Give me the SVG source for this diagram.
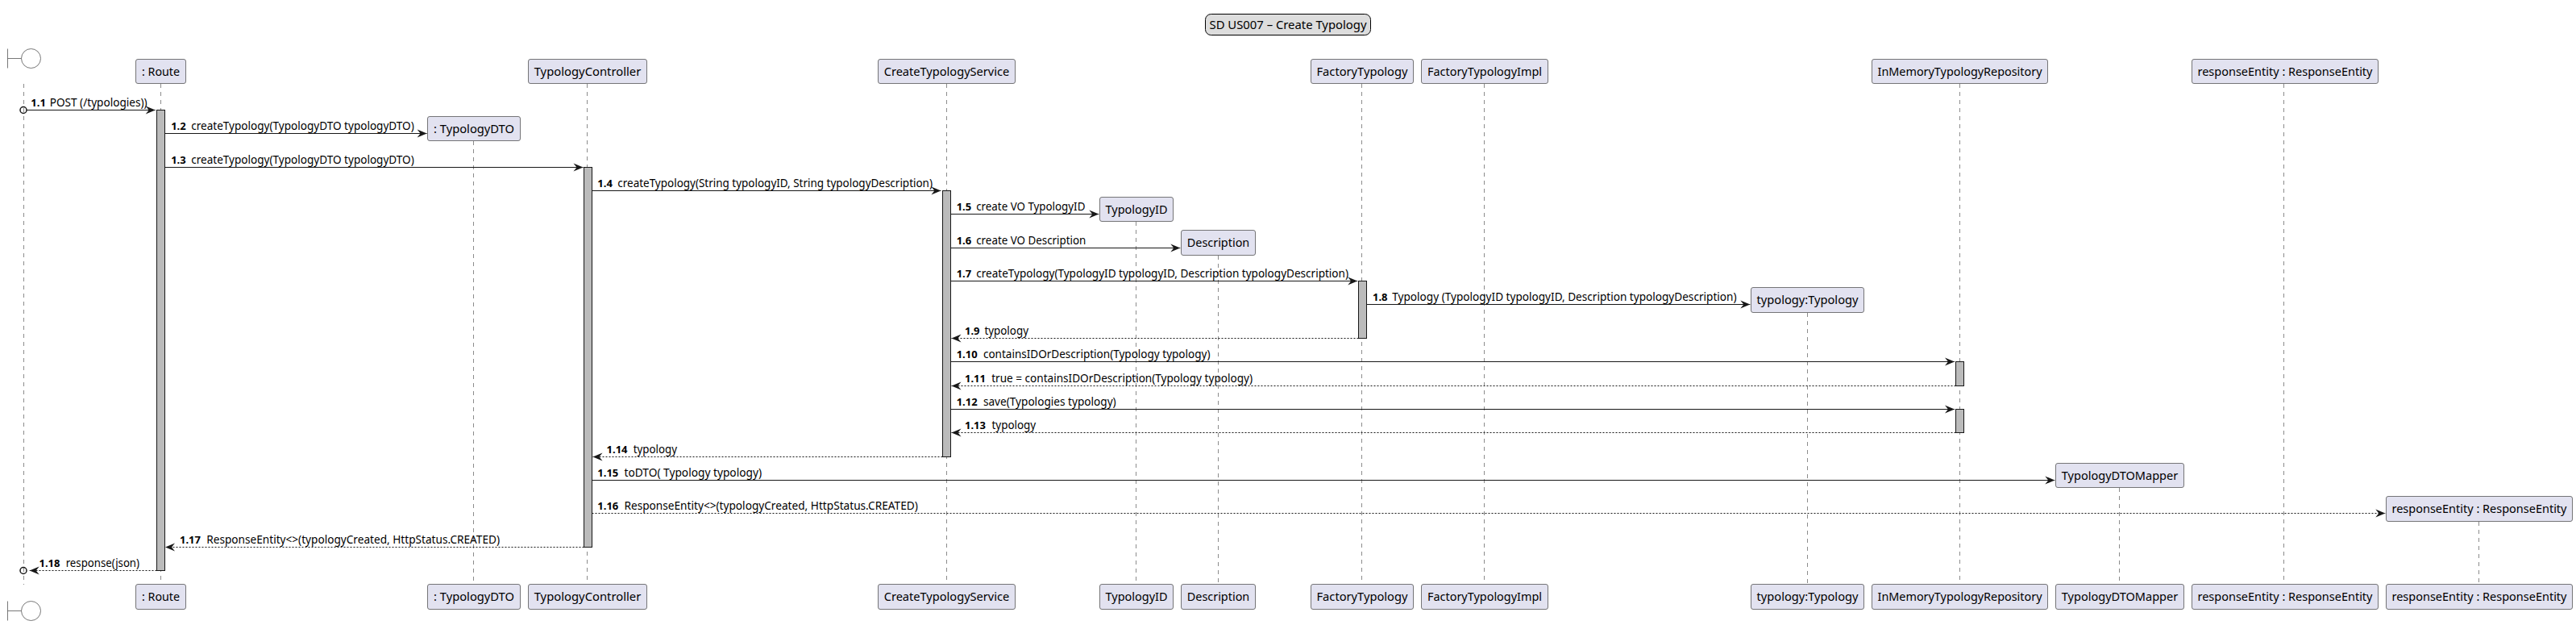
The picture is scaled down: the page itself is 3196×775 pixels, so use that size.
<svg xmlns="http://www.w3.org/2000/svg" width="3196" height="775" viewBox="0 0 3196 775">
<style>
text{font-family:"Noto Sans","Liberation Sans",sans-serif;fill:#000}
.n{font-size:14.5px;text-anchor:middle}
.m{font-size:13.5px}
.b{font-weight:bold;font-size:13px}
.box{fill:#E2E2F0;stroke:#555;stroke-width:.8}
.life{stroke:#181818;stroke-width:.5;stroke-dasharray:5,5;fill:none}
.act{fill:#BBBBBB;stroke:#181818;stroke-width:1}
.sync{stroke:#181818;stroke-width:1;fill:none;marker-end:url(#arr)}
.ret{stroke:#181818;stroke-width:1;stroke-dasharray:2,2;fill:none;marker-end:url(#arr)}
.bnd{fill:none;stroke:#555;stroke-width:.8}
</style>
<defs>
<marker id="arr" markerUnits="userSpaceOnUse" markerWidth="14" markerHeight="12" refX="13" refY="6" orient="auto"><path d="M13 6L1 1L5 6L1 11Z" fill="#181818"/></marker>
</defs>
<rect width="3196" height="775" fill="#fff"/>
<g id="title"><rect x="1495.5" y="17.5" width="205" height="26" rx="7" fill="#DDDDDD" stroke="#000" stroke-width="1"/><text class="n" x="1598" y="35.8" textLength="195" lengthAdjust="spacingAndGlyphs">SD US007 – Create Typology</text></g>
<g id="lifelines">
<path class="life" d="M29.5 104V725"/>
<path class="life" d="M199.5 104V724"/>
<path class="life" d="M587.5 175V724"/>
<path class="life" d="M728.5 104V724"/>
<path class="life" d="M1174.5 104V724"/>
<path class="life" d="M1409.5 275V724"/>
<path class="life" d="M1511.5 317V724"/>
<path class="life" d="M1689.5 104V724"/>
<path class="life" d="M1841.5 104V724"/>
<path class="life" d="M2242.5 388V724"/>
<path class="life" d="M2431.5 104V724"/>
<path class="life" d="M2629.5 605V724"/>
<path class="life" d="M2833.5 104V724"/>
<path class="life" d="M3075.5 647V724"/>
</g>
<g id="activations">
<rect class="act" x="194.5" y="136.5" width="10" height="571"/>
<rect class="act" x="724.5" y="207.5" width="10" height="471"/>
<rect class="act" x="1169.5" y="236.5" width="10" height="330"/>
<rect class="act" x="1685.5" y="348.5" width="10" height="71"/>
<rect class="act" x="2426.5" y="448.5" width="10" height="30"/>
<rect class="act" x="2426.5" y="507.5" width="10" height="29"/>
</g>
<g id="boundary">
<path class="bnd" d="M9.5 60.5V84.5M9.5 72.5H26.5"/><circle class="bnd" cx="38.5" cy="72.5" r="12"/>
<path class="bnd" d="M9.5 745.5V769.5M9.5 757.5H26.5"/><circle class="bnd" cx="38.5" cy="757.5" r="12"/>
</g>
<g id="route"><rect class="box" x="168.5" y="73.5" width="62" height="30" rx="2.5"/><text class="n" x="199.5" y="93.5" textLength="47" lengthAdjust="spacingAndGlyphs">: Route</text><rect class="box" x="168.5" y="724.5" width="62" height="31" rx="2.5"/><text class="n" x="199.5" y="745" textLength="47" lengthAdjust="spacingAndGlyphs">: Route</text></g>
<g id="typologyDTO"><rect class="box" x="530.5" y="144.5" width="115" height="30" rx="2.5"/><text class="n" x="588" y="164.5" textLength="100" lengthAdjust="spacingAndGlyphs">: TypologyDTO</text><rect class="box" x="530.5" y="724.5" width="115" height="31" rx="2.5"/><text class="n" x="588" y="745" textLength="100" lengthAdjust="spacingAndGlyphs">: TypologyDTO</text></g>
<g id="typologyController"><rect class="box" x="655.5" y="73.5" width="147" height="30" rx="2.5"/><text class="n" x="729" y="93.5" textLength="132.6" lengthAdjust="spacingAndGlyphs">TypologyController</text><rect class="box" x="655.5" y="724.5" width="147" height="31" rx="2.5"/><text class="n" x="729" y="745" textLength="132.6" lengthAdjust="spacingAndGlyphs">TypologyController</text></g>
<g id="createTypologyService"><rect class="box" x="1089.5" y="73.5" width="170" height="30" rx="2.5"/><text class="n" x="1174.5" y="93.5" textLength="155.6" lengthAdjust="spacingAndGlyphs">CreateTypologyService</text><rect class="box" x="1089.5" y="724.5" width="170" height="31" rx="2.5"/><text class="n" x="1174.5" y="745" textLength="155.6" lengthAdjust="spacingAndGlyphs">CreateTypologyService</text></g>
<g id="typologyID"><rect class="box" x="1364.5" y="244.5" width="91" height="30" rx="2.5"/><text class="n" x="1410" y="264.5" textLength="77" lengthAdjust="spacingAndGlyphs">TypologyID</text><rect class="box" x="1364.5" y="724.5" width="91" height="31" rx="2.5"/><text class="n" x="1410" y="745" textLength="77" lengthAdjust="spacingAndGlyphs">TypologyID</text></g>
<g id="description"><rect class="box" x="1465.5" y="285.5" width="92" height="31" rx="2.5"/><text class="n" x="1511.5" y="306" textLength="77.5" lengthAdjust="spacingAndGlyphs">Description</text><rect class="box" x="1465.5" y="724.5" width="92" height="31" rx="2.5"/><text class="n" x="1511.5" y="745" textLength="77.5" lengthAdjust="spacingAndGlyphs">Description</text></g>
<g id="factoryTypology"><rect class="box" x="1626.5" y="73.5" width="127" height="30" rx="2.5"/><text class="n" x="1690" y="93.5" textLength="113" lengthAdjust="spacingAndGlyphs">FactoryTypology</text><rect class="box" x="1626.5" y="724.5" width="127" height="31" rx="2.5"/><text class="n" x="1690" y="745" textLength="113" lengthAdjust="spacingAndGlyphs">FactoryTypology</text></g>
<g id="factoryTypologyImpl"><rect class="box" x="1763.5" y="73.5" width="157" height="30" rx="2.5"/><text class="n" x="1842" y="93.5" textLength="142" lengthAdjust="spacingAndGlyphs">FactoryTypologyImpl</text><rect class="box" x="1763.5" y="724.5" width="157" height="31" rx="2.5"/><text class="n" x="1842" y="745" textLength="142" lengthAdjust="spacingAndGlyphs">FactoryTypologyImpl</text></g>
<g id="typology"><rect class="box" x="2172.5" y="356.5" width="140" height="31" rx="2.5"/><text class="n" x="2242.5" y="377" textLength="126" lengthAdjust="spacingAndGlyphs">typology:Typology</text><rect class="box" x="2172.5" y="724.5" width="140" height="31" rx="2.5"/><text class="n" x="2242.5" y="745" textLength="126" lengthAdjust="spacingAndGlyphs">typology:Typology</text></g>
<g id="inMemoryTypologyRepository"><rect class="box" x="2322.5" y="73.5" width="218" height="30" rx="2.5"/><text class="n" x="2431.5" y="93.5" textLength="204" lengthAdjust="spacingAndGlyphs">InMemoryTypologyRepository</text><rect class="box" x="2322.5" y="724.5" width="218" height="31" rx="2.5"/><text class="n" x="2431.5" y="745" textLength="204" lengthAdjust="spacingAndGlyphs">InMemoryTypologyRepository</text></g>
<g id="typologyDTOMapper"><rect class="box" x="2550.5" y="574.5" width="159" height="30" rx="2.5"/><text class="n" x="2630" y="594.5" textLength="144.5" lengthAdjust="spacingAndGlyphs">TypologyDTOMapper</text><rect class="box" x="2550.5" y="724.5" width="159" height="31" rx="2.5"/><text class="n" x="2630" y="745" textLength="144.5" lengthAdjust="spacingAndGlyphs">TypologyDTOMapper</text></g>
<g id="responseEntity1"><rect class="box" x="2719.5" y="73.5" width="231" height="30" rx="2.5"/><text class="n" x="2835" y="93.5" textLength="217" lengthAdjust="spacingAndGlyphs">responseEntity : ResponseEntity</text><rect class="box" x="2719.5" y="724.5" width="231" height="31" rx="2.5"/><text class="n" x="2835" y="745" textLength="217" lengthAdjust="spacingAndGlyphs">responseEntity : ResponseEntity</text></g>
<g id="responseEntity2"><rect class="box" x="2960.5" y="615.5" width="231" height="31" rx="2.5"/><text class="n" x="3076" y="636" textLength="217" lengthAdjust="spacingAndGlyphs">responseEntity : ResponseEntity</text><rect class="box" x="2960.5" y="724.5" width="231" height="31" rx="2.5"/><text class="n" x="3076" y="745" textLength="217" lengthAdjust="spacingAndGlyphs">responseEntity : ResponseEntity</text></g>
<g id="connectors">
<circle cx="29" cy="136.5" r="4" fill="none" stroke="#181818" stroke-width="1.5"/>
<path class="sync" d="M33 136.5H192.7"/>
<path class="sync" d="M204.5 165.5H529.6"/>
<path class="sync" d="M204.5 207.5H723.5"/>
<path class="sync" d="M734.5 236.5H1167.4"/>
<path class="sync" d="M1179.5 265.5H1363.3"/>
<path class="sync" d="M1179.5 307.5H1464.3"/>
<path class="sync" d="M1179.5 348.5H1684.2"/>
<path class="sync" d="M1695.5 377.5H2171.3"/>
<path class="ret" d="M1685.5 419.5H1180.5"/>
<path class="sync" d="M1179.5 448.5H2425"/>
<path class="ret" d="M2426.5 478.5H1180.5"/>
<path class="sync" d="M1179.5 507.5H2425"/>
<path class="ret" d="M2426.5 536.5H1180.5"/>
<path class="ret" d="M1169.5 566.5H735.5"/>
<path class="sync" d="M734.5 595.5H2549.3"/>
<path class="ret" d="M734.5 636.5H2959.3"/>
<path class="ret" d="M724.5 678.5H205"/>
<path class="ret" d="M194.5 707.5H36.7"/>
<circle cx="29" cy="707.5" r="4" fill="none" stroke="#181818" stroke-width="1.5"/>
</g>
<g id="labels">
<text class="m" y="131.6"><tspan class="b" x="38.3">1.1 </tspan><tspan x="61.7" textLength="121" lengthAdjust="spacingAndGlyphs">POST (/typologies))</tspan></text>
<text class="m" y="161"><tspan class="b" x="212.2">1.2 </tspan><tspan x="237.2" textLength="276.6" lengthAdjust="spacingAndGlyphs">createTypology(TypologyDTO typologyDTO)</tspan></text>
<text class="m" y="202.6"><tspan class="b" x="212.2">1.3 </tspan><tspan x="237.2" textLength="276.6" lengthAdjust="spacingAndGlyphs">createTypology(TypologyDTO typologyDTO)</tspan></text>
<text class="m" y="231.6"><tspan class="b" x="741.3">1.4 </tspan><tspan x="766.3" textLength="390.7" lengthAdjust="spacingAndGlyphs">createTypology(String typologyID, String typologyDescription)</tspan></text>
<text class="m" y="260.6"><tspan class="b" x="1186.7">1.5 </tspan><tspan x="1211.2" textLength="135.2" lengthAdjust="spacingAndGlyphs">create VO TypologyID</tspan></text>
<text class="m" y="303"><tspan class="b" x="1186.7">1.6 </tspan><tspan x="1211.2" textLength="136.2" lengthAdjust="spacingAndGlyphs">create VO Description</tspan></text>
<text class="m" y="343.6"><tspan class="b" x="1186.7">1.7 </tspan><tspan x="1211.2" textLength="461.8" lengthAdjust="spacingAndGlyphs">createTypology(TypologyID typologyID, Description typologyDescription)</tspan></text>
<text class="m" y="372.6"><tspan class="b" x="1703">1.8 </tspan><tspan x="1727.3" textLength="427.2" lengthAdjust="spacingAndGlyphs">Typology (TypologyID typologyID, Description typologyDescription)</tspan></text>
<text class="m" y="414.6"><tspan class="b" x="1197">1.9 </tspan><tspan x="1221.4" textLength="54.6" lengthAdjust="spacingAndGlyphs">typology</tspan></text>
<text class="m" y="443.6"><tspan class="b" x="1186.7">1.10 </tspan><tspan x="1219.9" textLength="281.6" lengthAdjust="spacingAndGlyphs">containsIDOrDescription(Typology typology)</tspan></text>
<text class="m" y="473.6"><tspan class="b" x="1197">1.11 </tspan><tspan x="1230.2" textLength="323.8" lengthAdjust="spacingAndGlyphs">true = containsIDOrDescription(Typology typology)</tspan></text>
<text class="m" y="502.6"><tspan class="b" x="1186.7">1.12 </tspan><tspan x="1219.9" textLength="164.8" lengthAdjust="spacingAndGlyphs">save(Typologies typology)</tspan></text>
<text class="m" y="531.6"><tspan class="b" x="1197">1.13 </tspan><tspan x="1230.5" textLength="54.7" lengthAdjust="spacingAndGlyphs">typology</tspan></text>
<text class="m" y="561.6"><tspan class="b" x="752.6">1.14 </tspan><tspan x="785.8" textLength="54.2" lengthAdjust="spacingAndGlyphs">typology</tspan></text>
<text class="m" y="590.6"><tspan class="b" x="741.3">1.15 </tspan><tspan x="774.5" textLength="170.5" lengthAdjust="spacingAndGlyphs">toDTO( Typology typology)</tspan></text>
<text class="m" y="631.6"><tspan class="b" x="741.3">1.16 </tspan><tspan x="774.5" textLength="364.3" lengthAdjust="spacingAndGlyphs">ResponseEntity&lt;&gt;(typologyCreated, HttpStatus.CREATED)</tspan></text>
<text class="m" y="673.6"><tspan class="b" x="223">1.17 </tspan><tspan x="256.3" textLength="363.7" lengthAdjust="spacingAndGlyphs">ResponseEntity&lt;&gt;(typologyCreated, HttpStatus.CREATED)</tspan></text>
<text class="m" y="702.6"><tspan class="b" x="48.5">1.18 </tspan><tspan x="81.7" textLength="91.3" lengthAdjust="spacingAndGlyphs">response(json)</tspan></text>
</g>
</svg>
